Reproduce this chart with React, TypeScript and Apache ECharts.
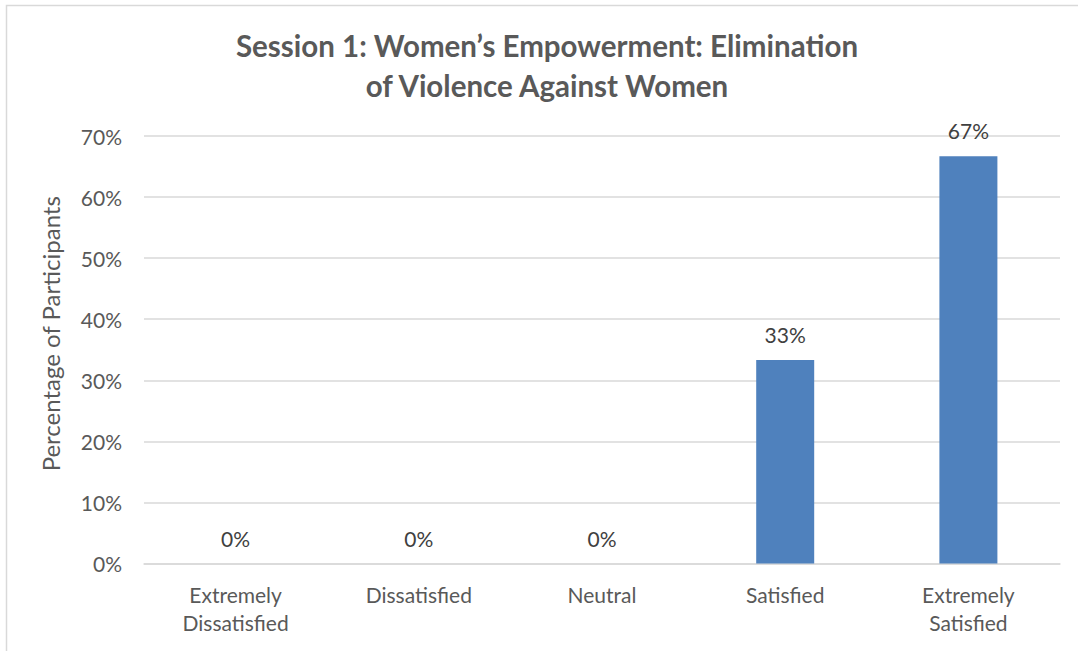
import React, { useEffect, useRef } from "react";
import * as echarts from "echarts";

const categories = ["Extremely\nDissatisfied", "Dissatisfied", "Neutral", "Satisfied", "Extremely\nSatisfied"];
const values = [0, 0, 0, 33.33, 66.67];
const titleText = "Session 1: Women’s Empowerment: Elimination\nof Violence Against Women";
const yAxisName = "Percentage of Participants";

const FONT = "Lato, 'Open Sans', sans-serif";

export default function App() {
  const ref = useRef<HTMLDivElement>(null);
  useEffect(() => {
    if (!ref.current) return;
    const chart = echarts.init(ref.current, null, { renderer: "svg" });
    chart.setOption({
      animation: false,
      backgroundColor: "#ffffff",
      textStyle: { fontFamily: FONT },
      title: {
        text: titleText,
        left: 542,
        textAlign: "center",
        top: 20,
        textStyle: { fontFamily: FONT, fontSize: 29.5, fontWeight: "bold", color: "#595959", lineHeight: 40 },
      },
      graphic: [
        {
          type: "rect",
          shape: { x: 6.5, y: 5.5, width: 1100, height: 700 },
          style: { fill: "none", stroke: "#d9d9d9", lineWidth: 1.5 },
          silent: true,
          z: -1,
        },
      ],
      grid: { left: 144, right: 18, top: 136, bottom: 87.5, containLabel: false },
      xAxis: {
        type: "category",
        data: categories,
        axisLine: { lineStyle: { color: "#d9d9d9", width: 1.5 } },
        axisTick: { show: false },
        axisLabel: { color: "#595959", fontSize: 21, fontFamily: FONT, lineHeight: 28, margin: 17, interval: 0 },
      },
      yAxis: {
        type: "value",
        min: 0,
        max: 70,
        interval: 10,
        name: yAxisName,
        nameLocation: "middle",
        nameGap: 82,
        nameTextStyle: { color: "#595959", fontSize: 24, fontFamily: FONT, padding: [0, 0, 0, 32] },
        axisLine: { show: false },
        axisTick: { show: false },
        axisLabel: { formatter: "{value}%", color: "#595959", fontSize: 21, fontFamily: FONT, margin: 22 },
        splitLine: { lineStyle: { color: "#d9d9d9", width: 1.5 } },
      },
      series: [
        {
          type: "bar",
          data: values,
          barWidth: 58,
          itemStyle: { color: "#4f81bd" },
          label: {
            show: true,
            position: "top",
            distance: 15,
            color: "#404040",
            fontSize: 21,
            fontFamily: FONT,
            formatter: (p: any) => Math.round(p.value) + "%",
          },
        },
      ],
    });
    return () => chart.dispose();
  }, []);
  return <div ref={ref} style={{ position: "fixed", left: 0, top: 0, width: 1078, height: 651 }} />;
}
